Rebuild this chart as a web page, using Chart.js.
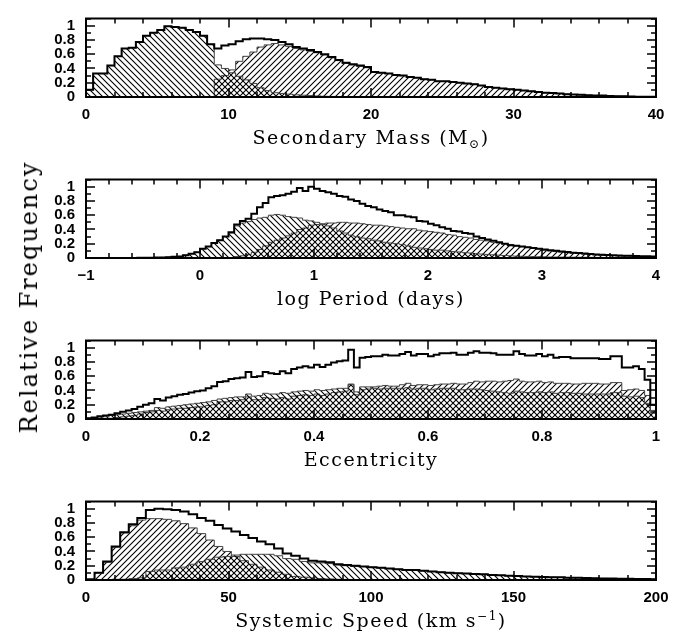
<!DOCTYPE html>
<html>
<head>
<meta charset="utf-8">
<script src="https://cdn.jsdelivr.net/npm/chart.js@4.4.1/dist/chart.umd.min.js"></script>
<style>
html, body { margin: 0; padding: 0; background: #fff; }
#wrap { position: relative; width: 697px; height: 636px; overflow: hidden; }
canvas { position: absolute; left: 0; }
#ylab { position: absolute; left: 29px; top: 297px; transform: translate(-50%, -50%) rotate(-90deg);
        font-family: 'DejaVu Serif'; font-size: 24px; white-space: nowrap; letter-spacing: 2px; color: #000; }
</style>
</head>
<body>
<div id="wrap">
<canvas id="c1" width="697" height="161" style="top:0px"></canvas>
<canvas id="c2" width="697" height="161" style="top:161px"></canvas>
<canvas id="c3" width="697" height="161" style="top:322px"></canvas>
<canvas id="c4" width="697" height="153" style="top:483px"></canvas>
<div id="ylab">Relative Frequency</div>
</div>
<script>
// y axis, shared by all panels
const yTicks = [0, 0.2, 0.4, 0.6, 0.8, 1]
const yTickLabels = ['0', '0.2', '0.4', '0.6', '0.8', '1']

// panel 1: secondary mass, bins of 0.5 from 0
const massTicks = [0, 10, 20, 30, 40]
const massTickLabels = ['0', '10', '20', '30', '40']
const massTotal = [0.1, 0.33, 0.33, 0.44, 0.57, 0.68, 0.69, 0.77, 0.86, 0.9,
    0.94, 0.99, 0.98, 0.97, 0.94, 0.91, 0.86, 0.74, 0.68, 0.72,
    0.74, 0.78, 0.81, 0.82, 0.82, 0.81, 0.8, 0.77, 0.74, 0.7,
    0.68, 0.66, 0.63, 0.6, 0.56, 0.52, 0.48, 0.46, 0.44, 0.42,
    0.35, 0.34, 0.33, 0.31, 0.3, 0.28, 0.27, 0.25, 0.24, 0.22,
    0.22, 0.21, 0.2, 0.19, 0.18, 0.16, 0.14, 0.13, 0.12, 0.11,
    0.1, 0.09, 0.08, 0.07, 0.06, 0.055, 0.05, 0.04, 0.035, 0.03,
    0.025, 0.02, 0.02, 0.015, 0.012, 0.01, 0.008, 0.005, 0.003, 0.002]
const massBack = [0.1, 0.33, 0.33, 0.44, 0.57, 0.68, 0.69, 0.77, 0.86, 0.9,
    0.94, 0.99, 0.98, 0.97, 0.94, 0.91, 0.86, 0.74, 0.45, 0.4,
    0.34, 0.29, 0.24, 0.19, 0.13, 0.09, 0.06, 0.05, 0.04, 0.03,
    0.025, 0.02, 0.015, 0.01, 0.008, 0.006, 0.005, 0.004, 0.003, 0.002,
    0, 0, 0, 0, 0, 0, 0, 0, 0, 0,
    0, 0, 0, 0, 0, 0, 0, 0, 0, 0,
    0, 0, 0, 0, 0, 0, 0, 0, 0, 0,
    0, 0, 0, 0, 0, 0, 0, 0, 0, 0]
const massSlash = [0, 0, 0, 0, 0, 0, 0, 0, 0, 0,
    0, 0, 0, 0, 0, 0, 0, 0, 0.25, 0.3,
    0.38, 0.5, 0.57, 0.63, 0.7, 0.73, 0.75, 0.73, 0.71, 0.68,
    0.66, 0.64, 0.62, 0.59, 0.55, 0.51, 0.47, 0.45, 0.43, 0.41,
    0.35, 0.34, 0.33, 0.31, 0.3, 0.28, 0.27, 0.25, 0.24, 0.22,
    0.22, 0.21, 0.2, 0.19, 0.18, 0.16, 0.14, 0.13, 0.12, 0.11,
    0.1, 0.09, 0.08, 0.07, 0.06, 0.055, 0.05, 0.04, 0.035, 0.03,
    0.025, 0.02, 0.02, 0.015, 0.012, 0.01, 0.008, 0.005, 0.003, 0.002]

// panel 2: log period, bins of 0.05 from -1
const perTicks = [-1, 0, 1, 2, 3, 4]
const perTickLabels = ['\u22121', '0', '1', '2', '3', '4']
const perTotal = [0, 0, 0, 0, 0, 0, 0, 0, 0.001, 0.002,
    0.003, 0.004, 0.006, 0.008, 0.012, 0.016, 0.022, 0.04, 0.06, 0.08,
    0.13, 0.16, 0.21, 0.25, 0.3, 0.36, 0.47, 0.52, 0.55, 0.62,
    0.71, 0.77, 0.85, 0.87, 0.88, 0.9, 0.93, 0.98, 0.94, 1.0,
    0.97, 0.94, 0.92, 0.9, 0.87, 0.86, 0.82, 0.8, 0.76, 0.73,
    0.71, 0.68, 0.66, 0.64, 0.6, 0.6, 0.58, 0.57, 0.52, 0.51,
    0.48, 0.46, 0.43, 0.41, 0.38, 0.37, 0.35, 0.34, 0.3, 0.28,
    0.26, 0.24, 0.22, 0.2, 0.18, 0.17, 0.16, 0.15, 0.14, 0.13,
    0.12, 0.11, 0.1, 0.09, 0.085, 0.075, 0.07, 0.062, 0.056, 0.05,
    0.046, 0.042, 0.04, 0.035, 0.032, 0.03, 0.028, 0.026, 0.024, 0.02]
const perBack = [0, 0, 0, 0, 0, 0, 0, 0, 0.001, 0.002,
    0.003, 0.004, 0.006, 0.008, 0.012, 0.016, 0.022, 0.04, 0.06, 0.08,
    0.13, 0.16, 0.21, 0.25, 0.3, 0.35, 0.45, 0.49, 0.51, 0.54,
    0.56, 0.57, 0.6, 0.61, 0.6, 0.58, 0.57, 0.56, 0.53, 0.52,
    0.5, 0.47, 0.45, 0.42, 0.38, 0.35, 0.32, 0.3, 0.28, 0.27,
    0.25, 0.24, 0.22, 0.21, 0.2, 0.19, 0.17, 0.15, 0.14, 0.13,
    0.12, 0.11, 0.11, 0.1, 0.09, 0.085, 0.075, 0.07, 0.06, 0.055,
    0.05, 0.045, 0.04, 0.035, 0.03, 0.026, 0.024, 0.022, 0.02, 0.018,
    0.016, 0.014, 0.013, 0.012, 0.012, 0.011, 0.01, 0.01, 0.009, 0.008,
    0.008, 0.007, 0.007, 0.006, 0.006, 0.005, 0.005, 0.004, 0.004, 0.003]
const perSlash = [0, 0, 0, 0, 0, 0, 0, 0, 0, 0,
    0, 0, 0, 0, 0, 0, 0, 0, 0, 0,
    0, 0, 0, 0, 0, 0, 0.02, 0.03, 0.05, 0.08,
    0.12, 0.17, 0.22, 0.25, 0.28, 0.31, 0.35, 0.4, 0.42, 0.46,
    0.47, 0.48, 0.49, 0.49, 0.5, 0.5, 0.49, 0.49, 0.48, 0.47,
    0.46, 0.46, 0.45, 0.44, 0.43, 0.42, 0.41, 0.41, 0.39, 0.38,
    0.37, 0.36, 0.35, 0.33, 0.32, 0.3, 0.29, 0.28, 0.26, 0.25,
    0.24, 0.22, 0.21, 0.2, 0.19, 0.17, 0.16, 0.15, 0.14, 0.13,
    0.11, 0.1, 0.09, 0.085, 0.075, 0.07, 0.062, 0.055, 0.05, 0.045,
    0.04, 0.037, 0.034, 0.03, 0.028, 0.026, 0.024, 0.022, 0.02, 0.018]

// panel 3: eccentricity, bins of 0.01 from 0
const eccTicks = [0, 0.2, 0.4, 0.6, 0.8, 1]
const eccTickLabels = ['0', '0.2', '0.4', '0.6', '0.8', '1']
const eccTotal = [0.01, 0.02, 0.04, 0.05, 0.06, 0.08, 0.1, 0.12, 0.14, 0.17,
    0.2, 0.22, 0.28, 0.26, 0.3, 0.32, 0.34, 0.35, 0.37, 0.39,
    0.4, 0.43, 0.46, 0.52, 0.53, 0.56, 0.57, 0.58, 0.66, 0.59,
    0.6, 0.66, 0.64, 0.63, 0.67, 0.64, 0.7, 0.72, 0.74, 0.72,
    0.76, 0.73, 0.76, 0.79, 0.81, 0.82, 0.97, 0.72, 0.86, 0.87,
    0.88, 0.88, 0.9, 0.89, 0.89, 0.91, 0.94, 0.89, 0.91, 0.91,
    0.88, 0.9, 0.92, 0.92, 0.93, 0.9, 0.9, 0.93, 0.95, 0.93,
    0.93, 0.92, 0.9, 0.9, 0.9, 0.95, 0.91, 0.89, 0.89, 0.91,
    0.88, 0.9, 0.86, 0.87, 0.87, 0.85, 0.85, 0.85, 0.85, 0.85,
    0.84, 0.84, 0.88, 0.88, 0.72, 0.72, 0.74, 0.7, 0.55, 0.2]
const eccBack = [0.01, 0.02, 0.03, 0.04, 0.05, 0.06, 0.07, 0.08, 0.09, 0.1,
    0.11, 0.12, 0.16, 0.15, 0.17, 0.18, 0.19, 0.2, 0.21, 0.22,
    0.23, 0.24, 0.26, 0.28, 0.29, 0.3, 0.31, 0.31, 0.35, 0.32,
    0.33, 0.36, 0.35, 0.35, 0.37, 0.36, 0.38, 0.39, 0.4, 0.39,
    0.41, 0.4, 0.41, 0.42, 0.43, 0.43, 0.49, 0.38, 0.45, 0.45,
    0.43, 0.42, 0.43, 0.43, 0.43, 0.43, 0.44, 0.42, 0.43, 0.43,
    0.41, 0.42, 0.43, 0.43, 0.43, 0.41, 0.41, 0.42, 0.42, 0.41,
    0.4, 0.39, 0.38, 0.37, 0.36, 0.39, 0.38, 0.37, 0.37, 0.38,
    0.37, 0.38, 0.36, 0.37, 0.37, 0.36, 0.36, 0.35, 0.35, 0.35,
    0.35, 0.35, 0.37, 0.37, 0.32, 0.31, 0.32, 0.3, 0.22, 0.08]
const eccSlash = [0, 0, 0.01, 0.01, 0.01, 0.02, 0.03, 0.04, 0.05, 0.07,
    0.09, 0.1, 0.12, 0.11, 0.13, 0.14, 0.15, 0.15, 0.16, 0.17,
    0.17, 0.19, 0.2, 0.24, 0.24, 0.26, 0.26, 0.27, 0.31, 0.27,
    0.27, 0.3, 0.29, 0.28, 0.3, 0.28, 0.32, 0.33, 0.34, 0.33,
    0.35, 0.33, 0.35, 0.37, 0.38, 0.39, 0.48, 0.34, 0.41, 0.42,
    0.45, 0.46, 0.47, 0.46, 0.46, 0.48, 0.5, 0.47, 0.48, 0.48,
    0.47, 0.48, 0.49, 0.49, 0.5, 0.49, 0.49, 0.51, 0.53, 0.52,
    0.53, 0.53, 0.52, 0.53, 0.54, 0.56, 0.53, 0.52, 0.52, 0.53,
    0.51, 0.52, 0.5, 0.5, 0.5, 0.49, 0.49, 0.5, 0.5, 0.5,
    0.49, 0.49, 0.51, 0.51, 0.4, 0.41, 0.42, 0.4, 0.33, 0.12]

// panel 4: systemic speed, bins of 3 km/s from 0
const spdTicks = [0, 50, 100, 150, 200]
const spdTickLabels = ['0', '50', '100', '150', '200']
const spdTotal = [0.01, 0.1, 0.26, 0.47, 0.67, 0.78, 0.87, 0.98, 1.0, 0.99,
    0.98, 0.96, 0.92, 0.87, 0.83, 0.77, 0.72, 0.68, 0.63, 0.59,
    0.54, 0.5, 0.44, 0.37, 0.34, 0.3, 0.27, 0.26, 0.25, 0.22,
    0.21, 0.2, 0.19, 0.18, 0.17, 0.16, 0.15, 0.14, 0.14, 0.13,
    0.12, 0.11, 0.1, 0.095, 0.09, 0.085, 0.08, 0.07, 0.065, 0.06,
    0.055, 0.05, 0.047, 0.043, 0.04, 0.037, 0.033, 0.03, 0.027, 0.024,
    0.022, 0.02, 0.018, 0.016, 0.015, 0.013, 0.012]
const spdSlash = [0.005, 0.1, 0.25, 0.46, 0.66, 0.76, 0.84, 0.86, 0.86, 0.85,
    0.83, 0.79, 0.73, 0.65, 0.56, 0.47, 0.4, 0.33, 0.27, 0.22,
    0.18, 0.14, 0.11, 0.08, 0.05, 0.04, 0.03, 0.02, 0.015, 0.01,
    0.008, 0.006, 0.005, 0.004, 0.003, 0.002, 0, 0, 0, 0,
    0, 0, 0, 0, 0, 0, 0, 0, 0, 0,
    0, 0, 0, 0, 0, 0, 0, 0, 0, 0,
    0, 0, 0, 0, 0, 0, 0]
const spdBack = [0, 0, 0.005, 0.01, 0.01, 0.02, 0.03, 0.12, 0.14, 0.14,
    0.17, 0.18, 0.22, 0.26, 0.29, 0.32, 0.33, 0.35, 0.36, 0.36,
    0.36, 0.36, 0.34, 0.3, 0.29, 0.26, 0.24, 0.24, 0.23, 0.21,
    0.2, 0.19, 0.19, 0.18, 0.17, 0.16, 0.15, 0.14, 0.14, 0.13,
    0.12, 0.11, 0.1, 0.095, 0.09, 0.085, 0.08, 0.07, 0.065, 0.06,
    0.055, 0.05, 0.047, 0.043, 0.04, 0.037, 0.033, 0.03, 0.027, 0.024,
    0.022, 0.02, 0.018, 0.016, 0.015, 0.013, 0.012]

function hatch(dir) {
    const c = document.createElement('canvas');
    c.width = 6; c.height = 6;
    const g = c.getContext('2d');
    g.strokeStyle = '#000';
    g.lineWidth = 1.1;
    g.beginPath();
    if (dir > 0) {          // "/"
        g.moveTo(-1, 7); g.lineTo(7, -1);
        g.moveTo(-1, 1); g.lineTo(1, -1);
        g.moveTo(5, 7); g.lineTo(7, 5);
    } else {                // "\"
        g.moveTo(-1, -1); g.lineTo(7, 7);
        g.moveTo(-1, 5); g.lineTo(1, 7);
        g.moveTo(5, -1); g.lineTo(7, 1);
    }
    g.stroke();
    return g.createPattern(c, 'repeat');
}

function steps(vals, start, width) {
    let d = vals.map((v, i) => ({x: start + i * width, y: v}));
    d.push({x: start + vals.length * width, y: vals[vals.length - 1]});
    return d;
}

// inward ticks on all four sides plus the box
const framePlugin = {
    id: 'boxticks',
    afterDraw(chart) {
        const ctx = chart.ctx, a = chart.chartArea;
        const x = chart.scales.x, y = chart.scales.y;
        const o = chart.config.options.boxTicks;
        ctx.save();
        ctx.fillStyle = '#000';
        let n = Math.round((o.xmax - o.xmin) / o.xminor);
        for (let i = 0; i <= n; i++) {
            let v = o.xmin + i * o.xminor;
            let r = v / o.xmajor;
            let len = Math.abs(r - Math.round(r)) < 1e-6 ? 9 : 5;
            let px = Math.round(x.getPixelForValue(v));
            ctx.fillRect(px - 0.75, a.bottom - len, 1.5, len);
            ctx.fillRect(px - 0.75, a.top, 1.5, len);
        }
        for (let i = 0; i <= 11; i++) {
            let len = i % 2 === 0 ? 9 : 5;
            let py = Math.round(y.getPixelForValue(i * 0.1));
            ctx.fillRect(a.left, py - 0.75, len, 1.5);
            ctx.fillRect(a.right - len, py - 0.75, len, 1.5);
        }
        ctx.strokeStyle = '#000';
        ctx.lineWidth = 2;
        ctx.strokeRect(a.left, a.top, a.right - a.left, a.bottom - a.top);
        ctx.restore();
    }
};

// axis title, with sub/superscript pieces
const titlePlugin = {
    id: 'xtitle',
    afterDraw(chart, args, o) {
        const ctx = chart.ctx, a = chart.chartArea;
        const big = '19px "DejaVu Serif"', small = '12px "DejaVu Serif"';
        ctx.save();
        ctx.letterSpacing = '1.5px';
        let w = 0;
        o.parts.forEach(p => {
            ctx.font = p[1] ? small : big;
            w += ctx.measureText(p[0]).width;
        });
        let x = (a.left + a.right) / 2 - w / 2;
        let y = a.bottom + 47;
        ctx.fillStyle = '#000';
        ctx.textBaseline = 'alphabetic';
        ctx.textAlign = 'left';
        o.parts.forEach(p => {
            ctx.font = p[1] ? small : big;
            let dy = p[1] > 0 ? -7 : (p[1] < 0 ? 4 : 0);
            ctx.fillText(p[0], x, y + dy);
            x += ctx.measureText(p[0]).width;
        });
        ctx.restore();
    }
};

function panel(id, p) {
    const h = document.getElementById(id).height;
    return new Chart(document.getElementById(id), {
        type: 'line',
        data: {
            datasets: [
                {data: steps(p.total, p.start, p.width), borderColor: '#000', borderWidth: 2,
                    fill: false, stepped: true, pointRadius: 0},
                {data: steps(p.back, p.start, p.width), borderColor: '#444', borderWidth: 1,
                    backgroundColor: hatch(-1), fill: 'origin', stepped: true, pointRadius: 0},
                {data: steps(p.slash, p.start, p.width), borderColor: '#444', borderWidth: 1,
                    backgroundColor: hatch(1), fill: 'origin', stepped: true, pointRadius: 0},
            ]
        },
        options: {
            responsive: false,
            animation: false,
            boxTicks: {xmin: p.xmin, xmax: p.xmax, xminor: p.xminor, xmajor: p.xmajor},
            layout: {padding: {top: 11, right: 41, left: 0, bottom: 0}},
            plugins: {
                legend: {display: false},
                tooltip: {enabled: false},
                xtitle: {parts: p.title},
            },
            scales: {
                x: {
                    type: 'linear', min: p.xmin, max: p.xmax,
                    grid: {display: false, drawTicks: false, tickLength: 0}, border: {display: false},
                    ticks: {
                        color: '#000', padding: 9, autoSkip: false, maxRotation: 0,
                        font: {family: 'Liberation Sans', weight: 'bold', size: 15},
                        callback: (v, i) => p.tickLabels[i]
                    },
                    afterBuildTicks: s => { s.ticks = p.ticks.map(v => ({value: v})) },
                    afterFit: s => { s.height = h - 97 }
                },
                y: {
                    min: 0, max: 1.1,
                    grid: {display: false, drawTicks: false, tickLength: 0}, border: {display: false},
                    ticks: {
                        color: '#000', padding: 11, autoSkip: false,
                        font: {family: 'Liberation Sans', weight: 'bold', size: 15, lineHeight: 1},
                        callback: (v, i) => yTickLabels[i]
                    },
                    afterBuildTicks: s => { s.ticks = yTicks.map(v => ({value: v})) },
                    afterFit: s => { s.width = 86 }
                }
            }
        },
        plugins: [framePlugin, titlePlugin]
    });
}

panel('c1', {total: massTotal, back: massBack, slash: massSlash, start: 0, width: 0.5,
    xmin: 0, xmax: 40, xminor: 2, xmajor: 10, ticks: massTicks, tickLabels: massTickLabels,
    title: [['Secondary Mass (M', 0], ['\u2299', -1], [')', 0]]});
panel('c2', {total: perTotal, back: perBack, slash: perSlash, start: -1, width: 0.05,
    xmin: -1, xmax: 4, xminor: 0.2, xmajor: 1, ticks: perTicks, tickLabels: perTickLabels,
    title: [['log Period (days)', 0]]});
panel('c3', {total: eccTotal, back: eccBack, slash: eccSlash, start: 0, width: 0.01,
    xmin: 0, xmax: 1, xminor: 0.05, xmajor: 0.2, ticks: eccTicks, tickLabels: eccTickLabels,
    title: [['Eccentricity', 0]]});
panel('c4', {total: spdTotal, back: spdBack, slash: spdSlash, start: 0, width: 3,
    xmin: 0, xmax: 200, xminor: 10, xmajor: 50, ticks: spdTicks, tickLabels: spdTickLabels,
    title: [['Systemic Speed (km s', 0], ['\u22121', 1], [')', 0]]});
</script>
</body>
</html>
